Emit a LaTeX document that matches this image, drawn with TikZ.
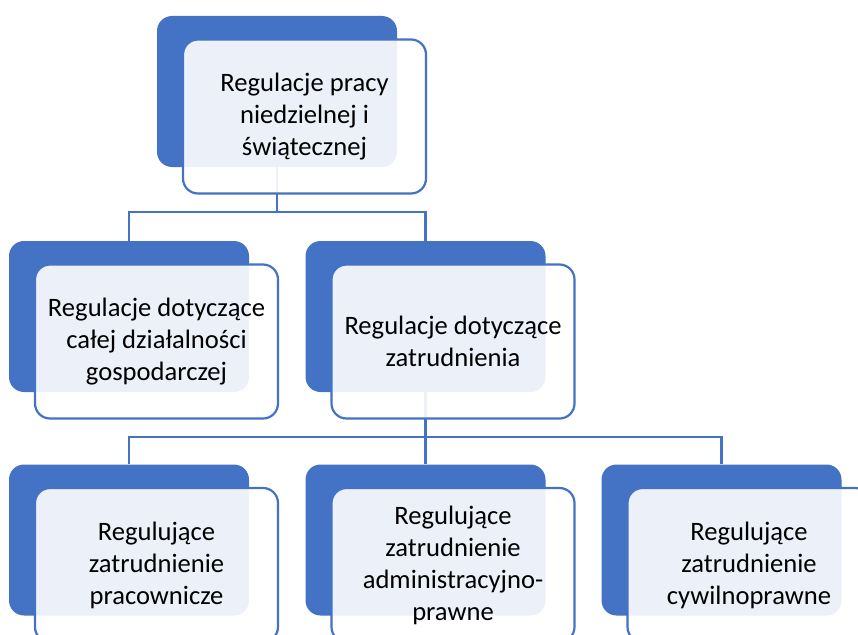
\documentclass[tikz,border=0pt]{standalone}
\usepackage{fontspec}
\setmainfont{Carlito}
\usetikzlibrary{backgrounds}
\definecolor{acc}{HTML}{4472C4}
\begin{document}
\begin{tikzpicture}[x=1pt,y=-1pt,
  back/.style={fill=acc, rounded corners=15pt, minimum width=240pt, minimum height=151pt, inner sep=0pt},
  front/.style={draw=acc, line width=2.2pt, fill=white, fill opacity=0.9, text opacity=1, rounded corners=15pt, minimum width=243pt, minimum height=154pt, align=center, font=\fontsize{26.6}{32}\selectfont, inner sep=0pt},
  conn/.style={draw=acc, line width=2.6pt}]
\useasboundingbox (0,0) rectangle (858,634);
\clip (0,0) rectangle (858,634);
\coordinate (h1) at (0,212);
\coordinate (h2) at (0,437);
% level 1
\node[back] (b1) at (277,91.5) {};
\node[front] (f1) at (304.5,116.5) {Regulacje pracy\\niedzielnej i\\świątecznej};
% level 2
\node[back] (b2) at (129,316.5) {};
\node[front] (f2) at (156.5,341.5) {Regulacje dotyczące\\całej działalności\\gospodarczej};
\node[back] (b3) at (425.5,316.5) {};
\node[front] (f3) at (453,341.5) {Regulacje dotyczące\\zatrudnienia};
% level 3
\node[back] (b4) at (129,540) {};
\node[front] (f4) at (156.5,565) {Regulujące\\zatrudnienie\\pracownicze};
\node[back] (b5) at (425.5,540) {};
\node[front] (f5) at (453,565) {Regulujące\\zatrudnienie\\administracyjno-\\prawne};
\node[back] (b6) at (721.5,540) {};
\node[front] (f6) at (749,565) {Regulujące\\zatrudnienie\\cywilnoprawne};
\begin{scope}[on background layer]
\draw[conn] (b1.south) -- (b1.south |- h1) -| (b2.north);
\draw[conn] (b1.south |- h1) -| (b3.north);
\draw[conn] (b3.south) -- (b3.south |- h2) -| (b4.north);
\draw[conn] (b3.south |- h2) -| (b6.north);
\draw[conn] (b3.south |- h2) -- (b5.north);
\end{scope}
\end{tikzpicture}
\end{document}
